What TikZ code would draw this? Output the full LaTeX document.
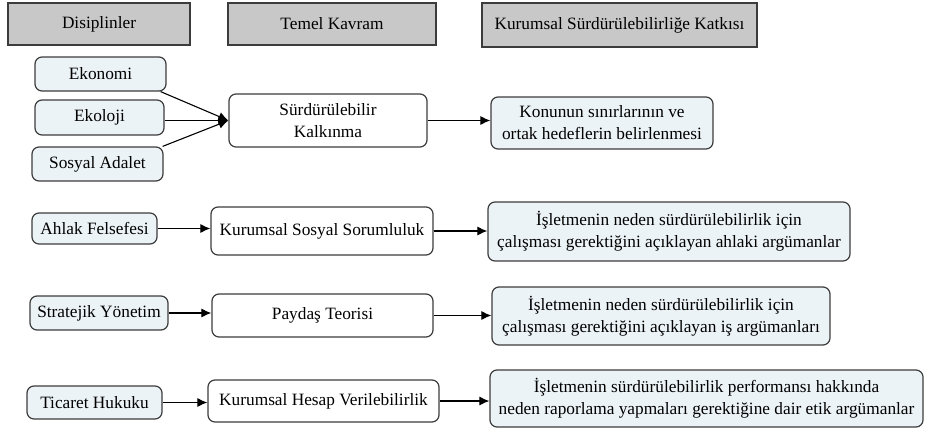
\documentclass[tikz,border=0pt]{standalone}
\usepackage{fontspec}
\setmainfont{LiberationSerif-Regular.ttf}
\usetikzlibrary{arrows.meta}
\definecolor{hdrgray}{RGB}{200,200,200}
\definecolor{paleblue}{RGB}{236,243,246}
\definecolor{edge}{RGB}{60,60,60}
\begin{document}
\begin{tikzpicture}[x=1pt,y=-1pt,
  every node/.style={font=\fontsize{17.3}{22}\selectfont, align=center, inner sep=0pt},
  hdr/.style={draw=edge, fill=hdrgray, line width=1.5pt},
  disc/.style={draw=edge, fill=paleblue, rounded corners=7pt, line width=1.2pt},
  concept/.style={draw=edge, fill=white, rounded corners=7pt, line width=1.2pt},
  contrib/.style={draw=edge, fill=paleblue, rounded corners=7pt, line width=1.2pt},
  arr/.style={draw=black, line width=1.1pt, -{Latex[length=10pt,width=9pt]}}]
\useasboundingbox (0,0) rectangle (925,431);
% headers
\node[hdr, minimum width=182pt, minimum height=42pt] (h1) at (99,24) {Disiplinler};
\node[hdr, minimum width=208pt, minimum height=42pt] (h2) at (332,24) {Temel Kavram};
\node[hdr, minimum width=275pt, minimum height=44pt] (h3) at (619.5,25) {Kurumsal Sürdürülebilirliğe Katkısı};
% row 1
\node[disc, minimum width=131pt, minimum height=34pt] (eko) at (100.5,74) {Ekonomi};
\node[disc, minimum width=129pt, minimum height=35pt] (ekl) at (99.5,117.5) {Ekoloji};
\node[disc, minimum width=131pt, minimum height=34pt] (sos) at (97.5,164) {Sosyal Adalet};
\node[concept, minimum width=198pt, minimum height=53pt] (sk) at (328,120.5) {Sürdürülebilir\\Kalkınma};
\node[contrib, minimum width=222pt, minimum height=52pt] (kon) at (602,123) {Konunun sınırlarının ve\\ortak hedeflerin belirlenmesi};
% row 2
\node[disc, minimum width=125pt, minimum height=31pt] (ahl) at (94.5,228.5) {Ahlak Felsefesi};
\node[concept, minimum width=222pt, minimum height=48pt] (kss) at (322,231) {Kurumsal Sosyal Sorumluluk};
\node[contrib, minimum width=362pt, minimum height=59pt] (b5) at (669,231.5) {İşletmenin neden sürdürülebilirlik için\\çalışması gerektiğini açıklayan ahlaki argümanlar};
% row 3
\node[disc, minimum width=138pt, minimum height=34pt] (str) at (99,313) {Stratejik Yönetim};
\node[concept, minimum width=221pt, minimum height=43pt] (pt) at (322.5,315.5) {Paydaş Teorisi};
\node[contrib, minimum width=338pt, minimum height=58pt] (b6) at (661,316) {İşletmenin neden sürdürülebilirlik için\\çalışması gerektiğini açıklayan iş argümanları};
% row 4
\node[disc, minimum width=135pt, minimum height=33pt] (tic) at (94.5,402.5) {Ticaret Hukuku};
\node[concept, minimum width=231pt, minimum height=42pt] (khv) at (323.5,401) {Kurumsal Hesap Verilebilirlik};
\node[contrib, minimum width=433pt, minimum height=57pt] (b7) at (706.5,398.5) {İşletmenin sürdürülebilirlik performansı hakkında\\neden raporlama yapmaları gerektiğine dair etik argümanlar};
% connectors
\draw[arr] ([xshift=-6pt]eko.south east) -- (sk.west);
\draw[arr] (ekl.east |- sk.west) -- (sk.west);
\draw[arr] ([xshift=-1pt]sos.north east) -- (sk.west);
\draw[arr] (sk.east) -- (sk.east -| kon.west);
\draw[arr] (ahl.east) -- (ahl.east -| kss.west);
\draw[arr] (kss.east) -- (kss.east -| b5.west);
\draw[arr] (str.east) -- (str.east -| pt.west);
\draw[arr] (pt.east) -- (pt.east -| b6.west);
\draw[arr] (tic.east) -- (tic.east -| khv.west);
\draw[arr] (khv.east) -- (khv.east -| b7.west);
\end{tikzpicture}
\end{document}
